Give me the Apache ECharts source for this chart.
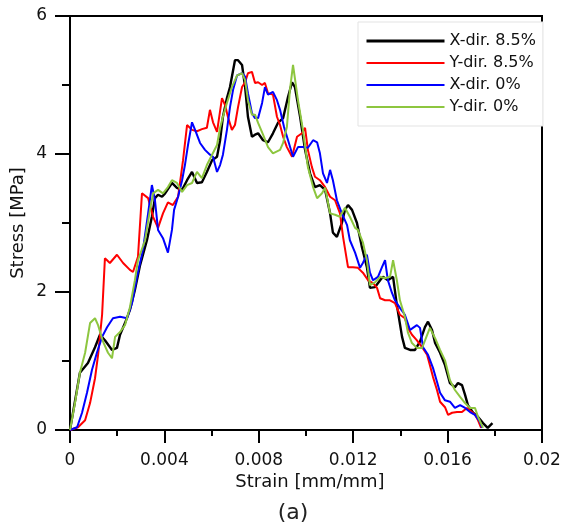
<!DOCTYPE html>
<html>
<head>
<meta charset="utf-8">
<script src="https://cdn.jsdelivr.net/npm/echarts@6/dist/echarts.min.js"></script>
<style>
html,body{margin:0;padding:0;background:#fff;}
#c{width:575px;height:530px;}
</style>
</head>
<body>
<div id="c"></div>
<script>
// Tick values
const xTicks = [0, 0.004, 0.008, 0.012, 0.016, 0.02];
const yTicks = [0, 2, 4, 6];
const seriesNames = ['X-dir. 8.5%', 'Y-dir. 8.5%', 'X-dir. 0%', 'Y-dir. 0%'];

// [strain, stress]
const xDir85 = [
[0,0],[0.00042,0.83],[0.00076,0.97],[0.00106,1.20],[0.00127,1.38],[0.00148,1.30],[0.00178,1.16],[0.00199,1.19],
[0.00212,1.38],[0.00233,1.55],[0.00254,1.74],[0.00275,2.03],[0.00297,2.39],[0.00326,2.75],[0.00347,3.09],[0.00360,3.36],
[0.00373,3.41],[0.00390,3.38],[0.00403,3.43],[0.00432,3.58],[0.00453,3.51],[0.00475,3.48],[0.00496,3.62],[0.00517,3.74],
[0.00538,3.58],[0.00559,3.59],[0.00580,3.74],[0.00602,3.91],[0.00623,3.96],[0.00636,4.20],[0.00648,4.54],[0.00665,4.81],
[0.00678,4.97],[0.00699,5.36],[0.00712,5.36],[0.00729,5.29],[0.00742,4.97],[0.00754,4.54],[0.00771,4.25],[0.00784,4.28],
[0.00797,4.30],[0.00818,4.20],[0.00839,4.17],[0.00860,4.30],[0.00881,4.45],[0.00903,4.52],[0.00924,4.83],[0.00941,5.04],
[0.00953,4.97],[0.00975,4.54],[0.00996,4.06],[0.01017,3.72],[0.01038,3.52],[0.01059,3.55],[0.01081,3.48],[0.01102,3.14],
[0.01114,2.86],[0.01131,2.80],[0.01152,3.00],[0.01165,3.19],[0.01178,3.26],[0.01195,3.19],[0.01216,3.00],[0.01237,2.65],
[0.01258,2.36],[0.01271,2.06],[0.01292,2.07],[0.01314,2.17],[0.01326,2.22],[0.01347,2.17],[0.01369,2.22],[0.01385,1.81],
[0.01407,1.35],[0.01419,1.19],[0.01441,1.16],[0.01462,1.16],[0.01483,1.28],[0.01504,1.49],[0.01517,1.57],[0.01534,1.45],
[0.01547,1.26],[0.01568,1.12],[0.01589,0.94],[0.01610,0.68],[0.01631,0.62],[0.01644,0.68],[0.01661,0.65],[0.01674,0.51],
[0.01686,0.36],[0.01708,0.25],[0.01729,0.19],[0.01750,0.10],[0.01770,0.03],[0.01790,0.10]
];
const yDir85 = [
[0,0],[0.00034,0.04],[0.00064,0.14],[0.00085,0.39],[0.00106,0.75],[0.00119,1.09],[0.00136,1.67],[0.00148,2.49],
[0.00169,2.42],[0.00199,2.54],[0.00225,2.42],[0.00254,2.32],[0.00267,2.29],[0.00288,2.51],[0.00305,3.43],[0.00331,3.36],
[0.00352,3.09],[0.00373,2.93],[0.00394,3.14],[0.00415,3.30],[0.00436,3.26],[0.00458,3.38],[0.00479,3.91],[0.00496,4.42],
[0.00517,4.35],[0.00538,4.33],[0.00559,4.36],[0.00580,4.38],[0.00593,4.64],[0.00606,4.46],[0.00623,4.32],[0.00644,4.81],
[0.00657,4.71],[0.00669,4.54],[0.00686,4.35],[0.00699,4.42],[0.00712,4.68],[0.00729,4.97],[0.00742,5.04],[0.00754,5.17],
[0.00771,5.19],[0.00784,5.03],[0.00797,5.04],[0.00814,5.00],[0.00826,5.03],[0.00839,4.88],[0.00860,4.86],[0.00877,4.54],
[0.00890,4.42],[0.00903,4.25],[0.00919,4.10],[0.00941,3.96],[0.00962,4.25],[0.00983,4.30],[0.00996,4.38],[0.01008,4.06],
[0.01025,3.81],[0.01038,3.67],[0.01059,3.62],[0.01081,3.52],[0.01102,3.38],[0.01123,3.33],[0.01144,3.14],[0.01157,2.80],
[0.01178,2.36],[0.01199,2.36],[0.01220,2.35],[0.01241,2.28],[0.01263,2.17],[0.01284,2.13],[0.01301,2.06],[0.01314,1.91],
[0.01335,1.88],[0.01356,1.88],[0.01377,1.84],[0.01398,1.67],[0.01419,1.62],[0.01432,1.48],[0.01449,1.38],[0.01470,1.30],
[0.01492,1.20],[0.01513,1.09],[0.01525,0.94],[0.01538,0.77],[0.01555,0.58],[0.01568,0.41],[0.01589,0.33],[0.01602,0.22],
[0.01619,0.25],[0.01640,0.26],[0.01661,0.26],[0.01682,0.32],[0.01703,0.26],[0.01716,0.22],[0.01729,0.14],[0.01742,0.03]
];
const xDir0 = [
[0,0],[0.00030,0.04],[0.00051,0.25],[0.00072,0.54],[0.00093,0.87],[0.00114,1.12],[0.00136,1.35],[0.00157,1.49],
[0.00182,1.62],[0.00212,1.64],[0.00242,1.62],[0.00263,1.84],[0.00284,2.22],[0.00309,2.61],[0.00331,3.14],[0.00347,3.55],
[0.00360,3.33],[0.00373,2.90],[0.00394,2.78],[0.00415,2.57],[0.00432,2.90],[0.00441,3.19],[0.00458,3.38],[0.00475,3.62],
[0.00487,3.84],[0.00500,4.13],[0.00517,4.46],[0.00530,4.35],[0.00551,4.16],[0.00572,4.06],[0.00593,3.99],[0.00606,3.96],
[0.00623,3.74],[0.00636,3.84],[0.00648,3.99],[0.00665,4.35],[0.00678,4.68],[0.00691,4.93],[0.00708,5.14],[0.00729,5.17],
[0.00742,5.12],[0.00754,4.88],[0.00771,4.59],[0.00784,4.52],[0.00797,4.52],[0.00814,4.74],[0.00826,4.97],[0.00839,4.86],
[0.00860,4.90],[0.00877,4.78],[0.00890,4.64],[0.00907,4.39],[0.00924,4.20],[0.00945,3.96],[0.00966,4.10],[0.00987,4.10],
[0.01008,4.09],[0.01030,4.20],[0.01047,4.17],[0.01059,4.01],[0.01072,3.72],[0.01089,3.58],[0.01102,3.77],[0.01114,3.62],
[0.01131,3.33],[0.01152,3.14],[0.01174,2.97],[0.01186,2.75],[0.01208,2.57],[0.01229,2.35],[0.01241,2.42],[0.01258,2.54],
[0.01271,2.28],[0.01284,2.17],[0.01305,2.22],[0.01322,2.36],[0.01335,2.46],[0.01347,2.17],[0.01364,1.99],[0.01377,1.88],
[0.01398,1.77],[0.01419,1.67],[0.01441,1.45],[0.01453,1.48],[0.01470,1.52],[0.01483,1.48],[0.01496,1.20],[0.01517,1.09],
[0.01538,0.90],[0.01555,0.70],[0.01568,0.54],[0.01589,0.43],[0.01610,0.41],[0.01631,0.32],[0.01653,0.36],[0.01674,0.32],
[0.01695,0.26],[0.01716,0.22],[0.01737,0.12],[0.01746,0.03]
];
const yDir0 = [
[0,0],[0.00021,0.39],[0.00042,0.83],[0.00064,1.12],[0.00085,1.55],[0.00106,1.62],[0.00119,1.52],[0.00140,1.28],
[0.00161,1.12],[0.00178,1.04],[0.00191,1.35],[0.00212,1.42],[0.00233,1.52],[0.00254,1.78],[0.00275,2.17],[0.00288,2.46],
[0.00318,2.75],[0.00339,3.19],[0.00352,3.43],[0.00373,3.48],[0.00394,3.43],[0.00415,3.52],[0.00432,3.62],[0.00453,3.58],
[0.00475,3.45],[0.00496,3.55],[0.00517,3.58],[0.00538,3.74],[0.00559,3.65],[0.00580,3.84],[0.00602,3.99],[0.00623,4.13],
[0.00636,4.38],[0.00648,4.54],[0.00665,4.74],[0.00686,4.97],[0.00708,5.14],[0.00729,5.17],[0.00742,5.07],[0.00754,4.78],
[0.00771,4.57],[0.00784,4.57],[0.00797,4.45],[0.00818,4.28],[0.00839,4.10],[0.00860,4.01],[0.00890,4.06],[0.00903,4.16],
[0.00919,4.39],[0.00932,4.93],[0.00945,5.29],[0.00966,4.78],[0.00987,4.35],[0.01008,3.81],[0.01030,3.52],[0.01047,3.36],
[0.01068,3.43],[0.01081,3.51],[0.01102,3.14],[0.01123,3.12],[0.01144,3.09],[0.01165,3.22],[0.01186,3.09],[0.01208,2.93],
[0.01220,2.90],[0.01241,2.72],[0.01258,2.46],[0.01271,2.10],[0.01292,2.14],[0.01314,2.22],[0.01335,2.20],[0.01356,2.22],
[0.01369,2.46],[0.01385,2.17],[0.01398,1.88],[0.01419,1.64],[0.01432,1.41],[0.01449,1.26],[0.01470,1.19],[0.01492,1.19],
[0.01508,1.33],[0.01525,1.48],[0.01547,1.33],[0.01568,1.16],[0.01589,1.01],[0.01610,0.72],[0.01631,0.58],[0.01653,0.48],
[0.01674,0.39],[0.01695,0.32],[0.01716,0.32],[0.01729,0.19],[0.01750,0.03]
];

const chart = echarts.init(document.getElementById('c'), null, {renderer: 'canvas'});
const FONT = 'DejaVu Sans';
const colors = ['#000000', '#ff0000', '#0000ff', '#8dc63f'];
const widths = [2.4, 2, 2, 2];
const legendWidths = [3, 2, 2, 2];
const datasets = [xDir85, yDir85, xDir0, yDir0];

chart.setOption({
  animation: false,
  backgroundColor: '#ffffff',
  grid: {left: 70, right: 33, top: 16, bottom: 100, show: true, borderColor: '#000', borderWidth: 2, backgroundColor: 'transparent'},
  legend: {
    left: 358, top: 22, orient: 'vertical',
    padding: [11, 7, 11, 7], itemGap: 6, itemWidth: 78, itemHeight: 14,
    backgroundColor: '#fff', borderColor: '#e3e3e3', borderWidth: 1,
    itemStyle: {color: 'rgba(0,0,0,0)', borderWidth: 0, opacity: 0},
    textStyle: {fontFamily: FONT, fontSize: 16, color: '#111'},
    data: seriesNames.map((n, i) => ({name: n, lineStyle: {color: colors[i], width: legendWidths[i]}}))
  },
  xAxis: {
    type: 'value', min: xTicks[0], max: xTicks[xTicks.length - 1], interval: 0.004,
    axisLine: {lineStyle: {color: '#000', width: 2}},
    axisTick: {inside: false, length: 13, lineStyle: {color: '#000', width: 2}},
    minorTick: {show: true, splitNumber: 2, length: 6, lineStyle: {color: '#000', width: 2}},
    splitLine: {show: false},
    axisLabel: {margin: 22, fontFamily: FONT, fontSize: 17, color: '#111',
      formatter: v => (Math.round(v * 1000) / 1000).toString()}
  },
  yAxis: {
    type: 'value', min: yTicks[0], max: yTicks[yTicks.length - 1], interval: 2,
    axisLine: {show: true, lineStyle: {color: '#000', width: 2}},
    axisTick: {show: true, inside: false, length: 15, lineStyle: {color: '#000', width: 2}},
    minorTick: {show: true, splitNumber: 2, length: 8, lineStyle: {color: '#000', width: 2}},
    splitLine: {show: false},
    axisLabel: {margin: 23, fontFamily: FONT, fontSize: 17, color: '#111'}
  },
  graphic: [
    {type: 'text', x: 310, y: 482, style: {text: 'Strain [mm/mm]', font: '18px "DejaVu Sans"', fill: '#111', textAlign: 'center', textVerticalAlign: 'middle'}},
    {type: 'text', x: 18, y: 223, rotation: Math.PI / 2, style: {text: 'Stress [MPa]', font: '18px "DejaVu Sans"', fill: '#111', textAlign: 'center', textVerticalAlign: 'middle'}},
    {type: 'text', x: 293, y: 513, style: {text: '(a)', font: '22px "DejaVu Sans"', fill: '#222', textAlign: 'center', textVerticalAlign: 'middle'}}
  ],
  series: seriesNames.map((n, i) => ({
    name: n, type: 'line', data: datasets[i], symbol: 'none', showSymbol: false,
    lineStyle: {color: colors[i], width: widths[i]}, itemStyle: {color: colors[i]},
    z: 2 + i
  }))
});
</script>
</body>
</html>
